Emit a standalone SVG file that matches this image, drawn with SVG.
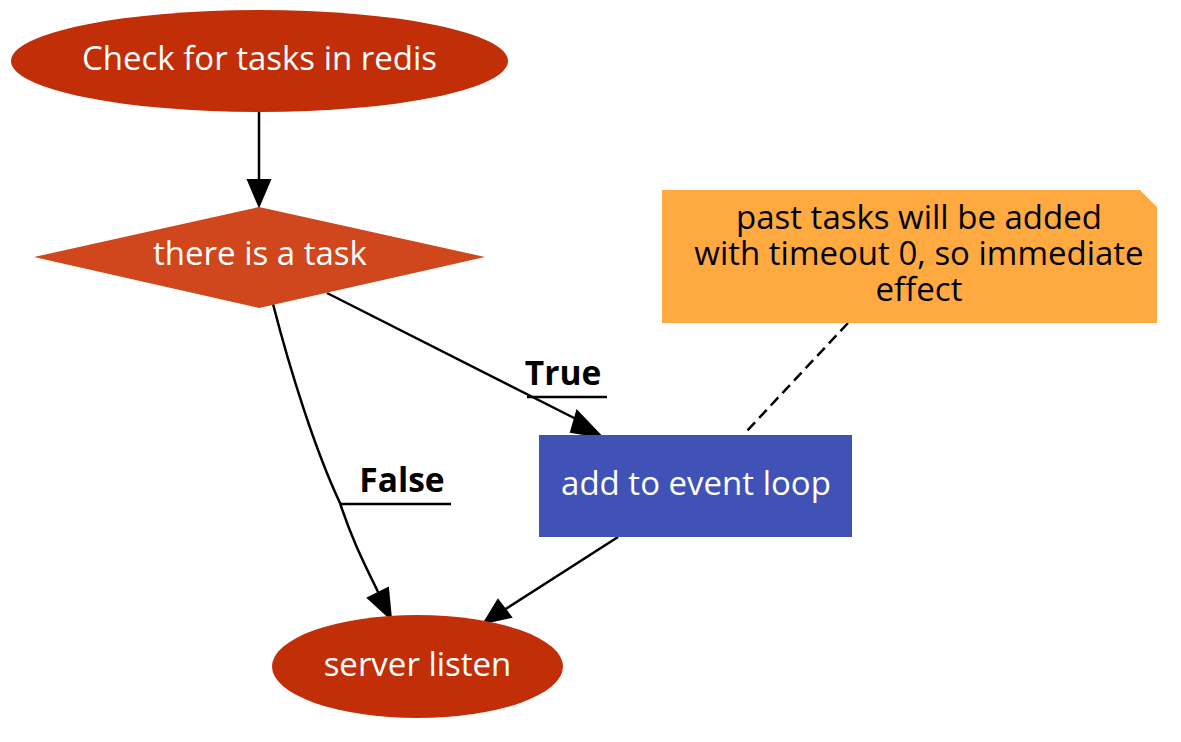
<svg xmlns="http://www.w3.org/2000/svg" width="1181" height="742" viewBox="0 0 1181 742">
<style>
text{font-family:"Open Sans","Noto Sans","Liberation Sans",sans-serif;font-size:33px;text-anchor:middle}
.w{fill:#ffffff}
.k{fill:#000000}
.b{font-weight:bold;font-size:33.5px}
.e{stroke:#000;stroke-width:2.5;fill:none}
.ah{fill:#000;stroke:#000;stroke-width:2}
</style>
<rect width="1181" height="742" fill="#ffffff"/>
<g id="connectors">
<path class="e" d="M259,112 L259,180"/>
<polygon class="ah" points="248,180 270,180 259,206"/>
<path class="e" d="M327,293 L582,422"/>
<polygon class="ah" points="577,411 571,432 602,437"/>
<path class="e" d="M273,304 C290,370 315,450 340,503 C352,540 365,565 379,594"/>
<polygon class="ah" points="368,598 388,588 391,619"/>
<path class="e" d="M618,537 L504,610"/>
<polygon class="ah" points="498,600 511,617 484,623"/>
<path class="e" stroke-width="3" stroke-dasharray="11,6" d="M848,323 L745,433"/>
<text class="k b" x="563" y="385">True</text>
<path class="e" d="M527,397 L607,397"/>
<text class="k b" x="402" y="492">False</text>
<path class="e" d="M340,504 L451,504"/>
</g>
<g id="check">
<ellipse cx="259.5" cy="61" rx="248.5" ry="51" fill="#C12E08"/>
<text class="w" x="259.5" y="70">Check for tasks in redis</text>
</g>
<g id="decision">
<polygon points="259,207 485,257 259,308 34,257" fill="#D1471D"/>
<text class="w" x="260" y="265">there is a task</text>
</g>
<g id="add">
<rect x="539" y="435" width="313" height="102" fill="#4052B5"/>
<text class="w" x="696" y="495">add to event loop</text>
</g>
<g id="listen">
<ellipse cx="417.5" cy="666.5" rx="145.5" ry="51.5" fill="#C12E08"/>
<text class="w" x="417.5" y="676">server listen</text>
</g>
<g id="note">
<polygon points="662,190 1140,190 1157,207 1157,323 662,323" fill="#FFAA40"/>
<text class="k" x="919" y="229"><tspan x="919" y="229">past tasks will be added</tspan><tspan x="919" y="265">with timeout 0, so immediate</tspan><tspan x="919" y="301">effect</tspan></text>
</g>
</svg>
